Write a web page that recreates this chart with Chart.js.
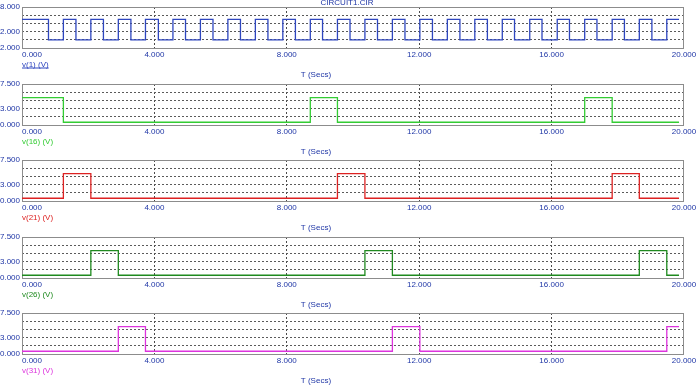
<!DOCTYPE html>
<html>
<head>
<meta charset="utf-8">
<script src="https://cdn.jsdelivr.net/npm/chart.js@4.4.1/dist/chart.umd.min.js"></script>
<style>
body { margin: 0; background: #fff; width: 700px; height: 386px; overflow: hidden; position: relative; }
canvas { position: absolute; left: 0; }
</style>
</head>
<body>
<canvas id="p0" width="700" height="80" style="top:0px"></canvas>
<canvas id="p1" width="700" height="80" style="top:77px"></canvas>
<canvas id="p2" width="700" height="80" style="top:153px"></canvas>
<canvas id="p3" width="700" height="80" style="top:230px"></canvas>
<canvas id="p4" width="700" height="80" style="top:306px"></canvas>
<script>
const timeTicks = [0, 4, 8, 12, 16, 20];
const timeEnd = 19.85;

// v(1) clock edges
const clockFall = [0.80, 1.63, 2.46, 3.29, 4.12, 4.94, 5.77, 6.60, 7.43, 8.26, 9.08, 9.91,
    10.74, 11.57, 12.40, 13.23, 14.06, 14.88, 15.71, 16.54, 17.37, 18.20, 19.03];
const clockRise = [1.25, 2.08, 2.91, 3.73, 4.56, 5.39, 6.22, 7.05, 7.88, 8.71, 9.53, 10.36,
    11.19, 12.02, 12.85, 13.68, 14.51, 15.34, 16.17, 17.00, 17.83, 18.65, 19.48];
const clockLevels = [0, 5];

// counter outputs: [start, end] of each high pulse
const v16Pulses = [[0, 1.25], [8.71, 9.53], [17.00, 17.83]];
const v21Pulses = [[1.25, 2.08], [9.53, 10.36], [17.83, 18.65]];
const v26Pulses = [[2.08, 2.91], [10.36, 11.19], [18.65, 19.48]];
const v31Pulses = [[2.91, 3.73], [11.19, 12.02], [19.48, 19.85]];
const outLevels = [0.5, 5];

const clockGrid = [-2, 0, 2, 4, 6, 8];
const clockLabels = [-2, 2, 8];
const outGrid = [0, 1.5, 3, 4.5, 6, 7.5];
const outLabels = [0, 3, 7.5];

const FONT = '8px "Liberation Sans", Arial, sans-serif';
const TEXT_BLUE = '#1f36a6';

function stepPoints(pulses, levels) {
    const lo = levels[0], hi = levels[1];
    const pts = [];
    let t = 0;
    pulses.forEach(([a, b]) => {
        if (a > t) {
            pts.push({ x: t, y: lo }, { x: a, y: lo });
        }
        pts.push({ x: a, y: hi }, { x: b, y: hi });
        if (b < timeEnd) pts.push({ x: b, y: lo });
        t = b;
    });
    if (t < timeEnd) pts.push({ x: timeEnd, y: lo });
    return pts;
}

const clockPulses = [[0, clockFall[0]]];
clockRise.forEach((r, i) => {
    clockPulses.push([r, i + 1 < clockFall.length ? clockFall[i + 1] : timeEnd]);
});

const panels = [
    { id: 'p0', pulses: clockPulses, levels: clockLevels, color: '#2e46bf', name: 'v(1) (V)',
      grid: clockGrid, labels: clockLabels, underline: true, title: 'CIRCUIT1.CIR' },
    { id: 'p1', pulses: v16Pulses, levels: outLevels, color: '#33cc33', name: 'v(16) (V)',
      grid: outGrid, labels: outLabels },
    { id: 'p2', pulses: v21Pulses, levels: outLevels, color: '#dd2222', name: 'v(21) (V)',
      grid: outGrid, labels: outLabels },
    { id: 'p3', pulses: v26Pulses, levels: outLevels, color: '#1f8a1f', name: 'v(26) (V)',
      grid: outGrid, labels: outLabels },
    { id: 'p4', pulses: v31Pulses, levels: outLevels, color: '#dd33dd', name: 'v(31) (V)',
      grid: outGrid, labels: outLabels }
];

const decor = {
    id: 'decor',
    beforeDatasetsDraw(chart) {
        const a = chart.chartArea, ctx = chart.ctx;
        ctx.save();
        ctx.strokeStyle = '#8c8c8c';
        ctx.lineWidth = 1;
        ctx.strokeRect(Math.round(a.left) + 0.5, Math.round(a.top) + 0.5,
            Math.round(a.right - a.left) - 1, Math.round(a.bottom - a.top));
        ctx.restore();
    },
    afterDraw(chart) {
        const a = chart.chartArea, ctx = chart.ctx, x = chart.scales.x;
        const p = chart.options.plugins.decor;
        ctx.save();
        ctx.font = FONT;
        ctx.textBaseline = 'middle';
        ctx.fillStyle = TEXT_BLUE;
        timeTicks.forEach((v, i) => {
            ctx.textAlign = i === 0 ? 'left' : 'center';
            ctx.fillText(v.toFixed(3), x.getPixelForValue(v), a.bottom + 6.5);
        });
        ctx.textAlign = 'center';
        ctx.fillText('T (Secs)', a.left + (a.right - a.left) * 0.444, a.bottom + 26.5);
        ctx.textAlign = 'left';
        ctx.fillStyle = p.color;
        ctx.fillText(p.name, a.left, a.bottom + 16.5);
        if (p.underline) {
            const w = ctx.measureText(p.name).width;
            ctx.fillRect(a.left, a.bottom + 19.5, w, 1);
        }
        if (p.title) {
            ctx.fillStyle = TEXT_BLUE;
            ctx.textAlign = 'center';
            ctx.textBaseline = 'alphabetic';
            ctx.fillText(p.title, 347, 5);
        }
        ctx.restore();
    }
};

panels.forEach((p) => {
    const yMin = p.grid[0], yMax = p.grid[p.grid.length - 1];
    new Chart(document.getElementById(p.id), {
        type: 'line',
        data: {
            datasets: [{
                data: stepPoints(p.pulses, p.levels),
                borderColor: p.color,
                borderWidth: 1.3,
                pointRadius: 0,
                tension: 0,
                fill: false
            }]
        },
        options: {
            responsive: false,
            animation: false,
            events: [],
            layout: { padding: { top: 7, right: 16, left: 0, bottom: 0 } },
            plugins: {
                legend: { display: false },
                tooltip: { enabled: false },
                decor: { color: p.color, name: p.name, underline: p.underline, title: p.title }
            },
            scales: {
                x: {
                    type: 'linear',
                    min: 0,
                    max: 20,
                    afterBuildTicks: (s) => { s.ticks = timeTicks.map((v) => ({ value: v })); },
                    ticks: { display: false },
                    grid: {
                        drawTicks: false,
                        color: (c) => (c.tick && c.tick.value > 0 && c.tick.value < 20) ? '#4a4a4a' : 'transparent'
                    },
                    border: { display: false, dash: [2, 2] },
                    afterFit: (s) => { s.height = 32; }
                },
                y: {
                    type: 'linear',
                    min: yMin,
                    max: yMax,
                    afterBuildTicks: (s) => { s.ticks = p.grid.map((v) => ({ value: v })); },
                    ticks: {
                        autoSkip: false,
                        font: { family: '"Liberation Sans", Arial, sans-serif', size: 8 },
                        color: TEXT_BLUE,
                        padding: 2,
                        callback: (v) => p.labels.includes(v) ? v.toFixed(3) : ''
                    },
                    grid: {
                        drawTicks: false,
                        color: (c) => (c.tick && c.tick.value > yMin && c.tick.value < yMax) ? '#5a5a5a' : 'transparent'
                    },
                    border: { display: false, dash: [2, 2] },
                    afterFit: (s) => { s.width = 22; }
                }
            }
        },
        plugins: [decor]
    });
});
</script>
</body>
</html>
